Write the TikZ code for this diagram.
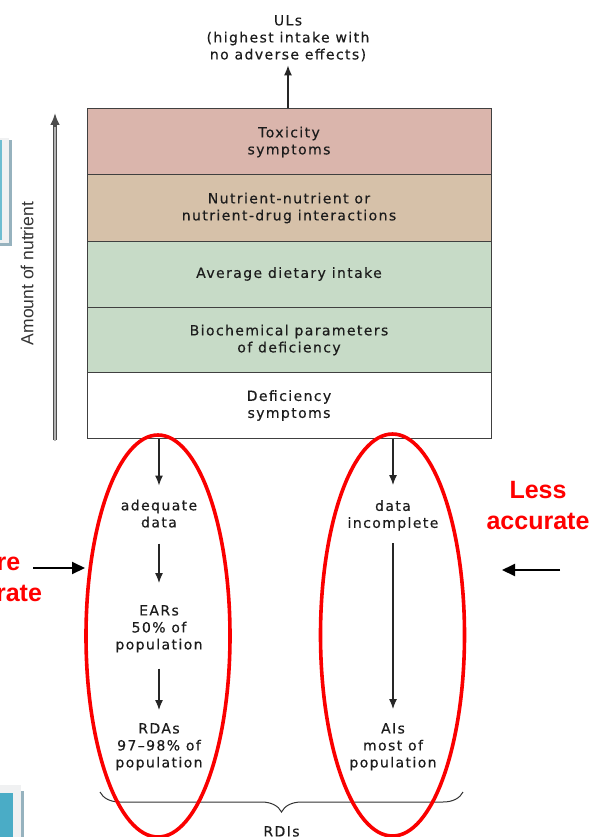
\documentclass[tikz,border=0pt]{standalone}
\usepackage{fontspec}
\setmainfont{DejaVu Sans}[LetterSpace=10, FakeBold=0.35]
\newfontfamily\arialfont{Liberation Sans}
\usetikzlibrary{arrows.meta,shapes.geometric,decorations.pathreplacing}
\definecolor{toxc}{RGB}{218,181,172}
\definecolor{intc}{RGB}{214,193,169}
\definecolor{grnc}{RGB}{199,219,199}
\definecolor{txtc}{RGB}{28,28,28}
\definecolor{ovalred}{RGB}{250,0,0}
\definecolor{panelg}{RGB}{240,241,242}
\definecolor{shadowb}{RGB}{150,178,190}
\definecolor{tealc}{RGB}{74,172,198}
\tikzset{
  rowbox/.style={draw=black!75, line width=1pt, minimum width=404pt, minimum height=66pt,
    inner sep=0pt, align=center, text=txtc, font=\fontsize{14}{17}\selectfont},
  lbl/.style={inner sep=0pt, align=center, text=txtc, font=\fontsize{14}{17}\selectfont},
  arr/.style={draw=black!85, line width=1.2pt, -{Latex[length=10pt,width=8pt]}},
  bigarr/.style={draw=black, line width=2pt, -{Triangle[length=13pt,width=12pt]}},
  redtxt/.style={inner sep=0pt, align=center, text=red, font=\arialfont\bfseries\fontsize{25}{31}\selectfont},
  oval/.style={ellipse, draw=ovalred, line width=3.6pt, minimum width=144pt, minimum height=402pt, inner sep=0pt},
  bracestyle/.style={draw=black!80, line width=1pt, decorate, decoration={brace, mirror, amplitude=20pt}}
}
\begin{document}
\begin{tikzpicture}[x=1pt,y=-1pt]
\useasboundingbox (0,0) rectangle (593,837);
\clip (0,0) rectangle (593,837);
\fill[white] (0,0) rectangle (593,837);
% left slide artifacts
\fill[shadowb] (0,140) rectangle (12,246);
\fill[panelg] (0,138) rectangle (9,243);
\fill[tealc!80] (0,140) rectangle (2,240);
\fill[panelg] (0,785) rectangle (21,837);
\fill[shadowb] (21,791) rectangle (24,837);
\fill[tealc] (0,793) rectangle (13,837);
% stacked rows
\node[rowbox, fill=toxc] (tox) at (289,142) {Toxicity\\symptoms};
\node[rowbox, fill=intc] (inter) at (289,208) {Nutrient-nutrient or\\nutrient-drug interactions};
\node[rowbox, fill=grnc] (avg) at (289,274) {Average dietary intake};
\node[rowbox, fill=grnc] (bio) at (289,340) {Biochemical parameters\\of deficiency};
\node[rowbox, fill=white] (def) at (289,405.5) {Deficiency\\symptoms};
% ULs
\node[lbl, anchor=north] (ul) at (288,15) {ULs\\(highest intake with\\no adverse effects)};
\draw[arr] (tox.north -| 288,0) -- ([yshift=-4pt]ul.south);
% amount of nutrient
\coordinate (amtB) at (55,440);
\coordinate (amtT) at (55,113);
\draw[line width=3.2pt, draw=black!70, -{Latex[length=12pt,width=10pt]}] (amtB) -- (amtT);
\draw[line width=1.1pt, draw=black!30] ([yshift=-1pt]amtB) -- ([yshift=-14pt]amtT);
\node[inner sep=0pt, rotate=90, text=black!80, font=\arialfont\fontsize{17.5}{20}\selectfont] (amt) at (27,273.5) {Amount of nutrient};
% columns
\node[lbl, anchor=north] (adeq) at (159,499.5) {adequate\\data};
\node[lbl, anchor=north] (ears) at (159,605) {EARs\\50\% of\\population};
\node[lbl, anchor=north] (rdas) at (159,723) {RDAs\\97--98\% of\\population};
\node[lbl, anchor=north] (inc) at (393,500) {data\\incomplete};
\node[lbl, anchor=north] (ais) at (393,723) {AIs\\most of\\population};
\draw[arr] (def.south -| adeq.north) -- ([yshift=14pt]adeq.north);
\draw[arr] ([yshift=-16pt]adeq.south) -- ([yshift=22pt]ears.north);
\draw[arr] ([yshift=-16pt]ears.south) -- ([yshift=13pt]rdas.north);
\draw[arr] (def.south -| inc.north) -- ([yshift=15pt]inc.north);
\draw[arr] ([yshift=-12.5pt]inc.south) -- ([yshift=14pt]ais.north);
% brace
\coordinate (brL) at (100,792);
\coordinate (brR) at (463,792);
\draw[bracestyle] (brL) -- (brR);
\node[lbl, anchor=north] (rdi) at (281.5,826) {RDIs};
% accuracy labels
\node[redtxt] (less) at (538,505.5) {Less\\accurate};
\node[redtxt] (more) at (-9.5,577.5) {More\\accurate};
\coordinate (lA) at (33,568);
\coordinate (lB) at (85,568);
\draw[bigarr] (lA) -- (lB);
\coordinate (rA) at (560,570);
\coordinate (rB) at (502,570);
\draw[bigarr] (rA) -- (rB);
% ovals
\node[oval] (ovL) at (158,636) {};
\node[oval] (ovR) at (392.5,635) {};
\end{tikzpicture}
\end{document}
